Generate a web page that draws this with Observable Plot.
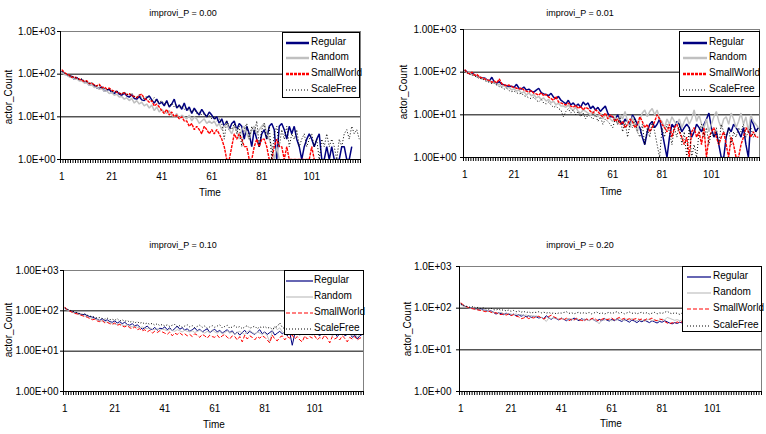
<!DOCTYPE html>
<html><head><meta charset="utf-8">
<script src="https://cdn.jsdelivr.net/npm/d3@7"></script>
<script src="https://cdn.jsdelivr.net/npm/@observablehq/plot@0.6"></script>
<style>
body{margin:0;background:#fff;}
#root{position:relative;width:766px;height:434px;overflow:hidden;font-family:"Liberation Sans",Arial,sans-serif;background:#fff;color:#000;}
.lbl{position:absolute;white-space:nowrap;line-height:1;}
.panel{position:absolute;}
.legend{position:absolute;background:#fff;border:1px solid #000;box-sizing:border-box;}
.legend .txt{position:absolute;font-size:10px;line-height:1;white-space:nowrap;}
.legend svg{position:absolute;overflow:visible;}
</style></head>
<body><div id="root"></div>
<script>
// ---------- data ----------
const seriesNames = ["Regular", "Random", "SmallWorld", "ScaleFree"];
const panelTitles = ["improvi_P = 0.00", "improvi_P = 0.01", "improvi_P = 0.10", "improvi_P = 0.20"];
const xTickLabels = [1, 21, 41, 61, 81, 101];
const yTickValues = [1, 10, 100, 1000];
const yLabel = "actor_Count";
const xLabel = "Time";

const p00Regular = [118,100,98,88,90,76,84,72,74,64, 66,56,58,54,48,46,50,40,42,44, 37,35,40,34,32,36,31,29,33,27, 26,30,25,24,28,31,25,21,26,20, 22,18,24,17,20,26,16,19,15,21, 14,17,12,16,13,11,15,12,10,13, 11,9,10,7,9,6,8,5,7,8, 5,7,6,3,6,4,2,5,3,2, 4,5,3,6,7,5,1,6,7,5, 3,6,4,6,3,2,1,2,3,4, 3,2,3,4,1,1,2,1,2,1, 1,1,2,2,1,1,2,0,0,0];
const p00Random = [112,98,96,86,84,76,78,69,70,62, 63,55,57,49,50,44,46,40,41,35, 37,32,34,29,30,26,28,24,27,21, 24,20,22,18,20,16,19,14,17,13, 15,13,12,14,11,10,12,9,11,10, 9,11,8,10,9,7,8,9,7,8, 7,8,6,7,5,6,7,5,4,6, 5,3,5,6,4,3,5,6,4,5, 6,7,4,3,2,1,2,1,0,0, 0,0,0,0,0,0,0,0,0,0, 0,0,0,0,0,0,0,0,0,0, 0,0,0,0,0,0,0,0,0,0];
const p00SmallWorld = [128,110,100,95,84,88,80,77,72,68, 70,60,62,56,53,58,48,50,45,47, 42,40,38,36,34,37,33,35,31,30, 28,32,34,27,25,22,24,18,20,17, 14,12,15,11,13,10,11,9,10,8, 8,6,7,5,6,5,4,6,5,4, 5,4,5,4,3,2,1,1,2,4, 3,4,3,2,2,1,1,2,3,2, 3,3,2,1,1,2,3,2,2,1, 2,1,1,1,1,1,1,1,1,1, 2,1,0,0,0,0,0,0,0,0, 0,0,0,0,0,0,0,0,0,0];
const p00ScaleFree = [115,108,98,92,90,84,80,76,78,70, 66,62,64,56,52,54,48,46,43,45, 40,38,41,36,35,38,34,32,36,30, 29,33,28,27,31,26,24,28,23,22, 24,20,22,18,21,17,19,16,18,15, 16,14,13,15,12,13,11,12,10,11, 9,10,8,9,7,3,8,6,5,7, 4,6,2,5,7,3,6,4,8,2, 5,7,3,6,1,4,6,2,5,3, 6,2,4,3,5,2,3,4,2,3, 4,2,3,1,3,2,4,2,3,2, 1,3,2,4,5,3,6,4,5,3];

const p01Regular = [112,100,92,96,86,80,78,72,74,66, 62,76,58,55,60,52,50,48,46,47, 44,52,42,40,45,38,40,36,34,38, 42,33,31,30,28,32,26,24,27,22, 20,18,22,17,19,16,18,15,20,17, 19,14,16,13,15,12,14,16,11,9, 9,8,10,7,6,8,7,6,10,8, 6,5,3,2,4,6,7,5,6,8, 4,2,1,3,6,5,7,6,4,5, 6,5,3,4,6,5,4,6,8,11, 5,3,4,2,1,1,3,5,4,6, 5,4,3,5,2,1,8,6,4,5];
const p01Random = [108,98,96,86,88,76,78,68,72,62, 64,56,58,50,53,45,49,42,44,38, 41,36,38,32,35,29,33,28,30,25, 27,23,25,21,23,19,21,17,19,16, 16,15,17,14,13,15,12,11,13,12, 11,10,12,10,9,11,8,10,9,8, 7,9,6,10,8,12,7,5,9,6, 4,8,11,13,9,12,14,10,13,8, 7,5,8,6,9,7,6,8,5,7, 9,6,8,13,7,10,6,5,8,4, 6,9,12,7,5,8,9,6,11,8, 5,7,11,6,9,4,10,7,6,5];
const p01SmallWorld = [115,96,92,100,84,88,76,74,70,66, 64,58,62,56,70,54,50,48,50,46, 44,42,40,43,38,36,34,37,32,31, 29,33,28,30,26,24,22,27,20,19, 18,17,19,16,15,17,14,16,13,15, 14,12,11,13,12,10,9,11,8,10, 9,7,8,6,7,5,6,8,7,5, 6,9,7,5,6,4,5,7,10,8, 6,5,4,6,3,5,6,4,3,2, 3,1,4,5,3,4,2,5,1,3, 4,5,3,2,3,4,2,1,3,2, 1,1,2,3,5,4,3,4,3,3];
const p01ScaleFree = [110,98,90,86,82,76,70,72,64,60, 58,54,56,50,46,44,40,42,37,35, 36,33,31,32,28,27,25,24,26,22, 20,23,19,18,20,17,15,16,14,13, 9,12,14,11,13,10,12,9,11,8, 10,9,8,10,7,9,6,8,7,6, 5,8,6,9,4,7,3,6,5,8, 4,3,6,2,5,3,7,4,2,1, 5,3,6,4,2,5,3,6,2,4, 1,5,1,2,1,4,6,3,5,2, 4,3,5,2,6,4,3,5,2,4, 3,5,4,6,3,4,5,3,4,5];

const p10Regular = [115,108,100,96,90,88,84,80,82,76, 72,70,66,62,58,64,56,60,54,52, 56,50,54,48,52,46,44,48,42,45, 40,35,38,42,36,34,39,33,37,36, 40,34,38,32,36,42,35,38,33,36, 31,34,38,32,35,30,33,36,29,32, 35,30,33,28,31,34,29,32,26,30, 25,29,33,27,31,28,26,30,34,27, 30,26,29,32,25,28,31,27,30,24, 29,14,27,30,25,28,32,26,29,25, 30,27,24,28,31,26,29,25,28,23, 27,30,24,26,29,22,25,20,24,26];
const p10Random = [112,104,98,92,88,84,80,78,74,70, 68,65,62,60,58,55,54,52,50,49, 47,46,48,44,43,45,41,40,42,39, 38,40,37,36,38,35,34,36,33,35, 34,32,35,33,31,34,32,30,33,31, 30,32,29,31,33,30,28,31,29,34, 30,28,31,27,29,32,28,30,26,29, 31,28,26,30,33,29,27,30,28,26, 29,24,17,31,42,34,38,30,27,29, 32,28,26,30,27,33,29,26,31,28, 25,29,32,27,30,26,28,24,27,30, 26,28,25,29,27,24,30,22,26,28];
const p10SmallWorld = [125,105,98,92,86,84,80,76,72,70, 64,60,62,56,54,58,50,52,48,46, 50,44,46,42,40,43,38,36,40,34, 36,32,34,30,33,28,31,29,32,30, 28,26,30,24,28,26,29,25,27,24, 26,23,27,25,22,26,24,21,25,23, 22,25,21,24,26,22,20,24,23,19, 23,17,25,20,24,22,19,23,21,24, 22,19,16,25,20,18,22,24,19,23, 21,25,20,23,19,17,24,20,23,21, 24,19,22,20,25,21,16,23,20,22, 19,24,21,17,22,20,23,19,21,22];
const p10ScaleFree = [118,110,104,98,94,90,86,82,84,78, 74,72,70,66,68,64,62,66,60,62, 58,64,56,60,55,58,52,56,50,54, 49,52,47,50,46,49,44,48,43,46, 42,45,41,44,46,40,43,39,42,45, 40,43,38,41,44,39,42,37,40,43, 39,42,45,38,41,44,37,40,43,38, 41,36,40,43,37,39,42,36,40,38, 41,37,39,35,38,41,50,39,36,40, 38,42,37,40,36,39,42,37,40,38, 41,36,39,42,37,40,38,35,39,41, 37,40,36,39,42,38,36,40,37,39];

const p20Regular = [125,115,108,104,100,98,95,92,96,90, 88,84,86,80,72,78,74,70,76,72, 68,72,66,70,64,68,62,66,60,64, 62,58,60,56,66,58,54,60,56,52, 58,54,50,56,52,58,54,50,56,52, 54,50,56,52,48,54,50,56,52,49, 54,50,55,51,48,53,50,46,52,49, 45,50,47,52,48,45,50,47,44,48, 46,50,47,44,42,45,43,46,44,48, 45,47,43,46,44,48,45,43,46,44, 47,43,45,48,44,46,42,45,47,44, 46,43,45,47,42,44,46,43,45,44];
const p20Random = [120,112,106,102,98,96,94,90,92,88, 86,84,82,80,78,76,80,74,72,75, 72,70,73,68,71,66,69,64,67,63, 65,62,60,55,48,58,56,60,57,54, 58,55,53,57,54,52,56,53,51,55, 53,50,54,52,49,42,53,51,55,52, 50,54,51,57,53,50,55,52,56,53, 50,54,51,48,52,55,50,53,49,51, 55,52,60,57,54,51,53,50,52,49, 51,54,50,53,49,52,55,51,48,52, 50,53,49,52,54,50,47,51,53,50, 52,49,51,54,50,48,52,50,53,51];
const p20SmallWorld = [135,120,110,104,100,96,94,90,88,85, 82,86,80,76,78,72,70,74,68,72, 66,70,64,62,56,58,62,56,60,58, 62,64,58,55,60,63,68,62,58,54, 56,52,58,50,54,52,57,53,51,49, 55,52,56,58,52,50,54,57,53,55, 58,52,56,60,54,57,53,56,52,55, 57,53,55,51,56,54,58,52,50,55, 53,48,44,42,45,43,47,44,48,46, 50,47,45,49,46,48,44,47,45,49, 46,48,50,47,45,49,46,44,48,47, 45,49,47,44,48,46,50,47,45,48];
const p20ScaleFree = [128,118,112,108,104,110,100,106,98,102, 96,94,100,92,90,95,88,92,86,90, 84,88,82,86,80,84,78,82,76,80, 79,82,77,80,76,79,74,78,73,77, 76,79,82,75,78,73,77,80,74,78, 75,79,73,77,81,74,78,72,76,80, 74,78,82,75,79,73,77,81,75,78, 73,77,80,74,78,72,76,79,73,77, 75,79,85,77,73,78,75,71,77,74, 76,80,74,78,72,77,75,79,73,76, 78,74,77,72,76,79,73,77,75,78, 74,77,73,76,79,74,77,72,76,75];

const panelSeries = [
  [p00Regular, p00Random, p00SmallWorld, p00ScaleFree],
  [p01Regular, p01Random, p01SmallWorld, p01ScaleFree],
  [p10Regular, p10Random, p10SmallWorld, p10ScaleFree],
  [p20Regular, p20Random, p20SmallWorld, p20ScaleFree]
];

// ---------- layout & style ----------
const colors = ["#000080", "#c0c0c0", "#ff0000", "#000000"];
const layouts = [
  {left:0, top:0, ml:60, mr:23, mt:31, mb:58, fmt:"1.0E+0", ypad:2, thick:true,
   title:[183,13], ylab:[9,97], xlab:[210,193],
   legend:{x:282, y:32, w:78, h:66, rows:[42,57,73,89], sx:285, sw:23, tx:310}},
  {left:383, top:0, ml:80, mr:7, mb:60, mt:29, fmt:"1.00E+0", ypad:4, thick:true,
   title:[580,13], ylab:[404,92], xlab:[611,192],
   legend:{x:679, y:31, w:81, h:66, rows:[42,57,73,89], sx:682, sw:24, tx:708}},
  {left:0, top:217, ml:63, mr:20, mt:53, mb:43, fmt:"1.00E+0", ypad:2, thick:false,
   title:[183,245], ylab:[9,330], xlab:[214,425],
   legend:{x:284, y:270, w:80, h:65, rows:[280,296,312,328], sx:285, sw:27, tx:313}},
  {left:383, top:217, ml:76, mr:5, mt:49, mb:43, fmt:"1.0E+0", ypad:5, thick:false,
   title:[580,245], ylab:[408,329], xlab:[611,424],
   legend:{x:682, y:266, w:80, h:66, rows:[276,292,308,325], sx:686, sw:24, tx:712}}
];

function styleFor(i, thick) {
  if (i === 0) return {stroke: colors[0], strokeWidth: thick ? 1.5 : 1, dash: null};
  if (i === 1) return {stroke: colors[1], strokeWidth: thick ? 1.5 : 1, dash: null};
  if (i === 2) return {stroke: colors[2], strokeWidth: thick ? 1.4 : 1, dash: thick ? "3,1" : "4,2"};
  return {stroke: colors[3], strokeWidth: 1, dash: "1,2"};
}

const root = document.getElementById("root");

function addLabel(text, cx, cy, size, rotate) {
  const d = document.createElement("div");
  d.className = "lbl";
  d.textContent = text;
  d.style.fontSize = size + "px";
  d.style.left = cx + "px";
  d.style.top = cy + "px";
  d.style.transform = "translate(-50%,-50%)" + (rotate ? " rotate(-90deg)" : "");
  root.appendChild(d);
}

layouts.forEach((L, p) => {
  const W = 383, H = 217;
  const rows = [];
  panelSeries[p].forEach((arr, si) => {
    arr.forEach((v, k) => rows.push({t: k + 1, v: v > 0 ? v : null, s: seriesNames[si]}));
  });
  const lineMarks = seriesNames.map((name, si) => {
    const st = styleFor(si, L.thick);
    return Plot.line(rows.filter(r => r.s === name), {
      x: "t", y: "v", stroke: st.stroke, strokeWidth: st.strokeWidth,
      strokeDasharray: st.dash || undefined, strokeLinejoin: "miter", strokeLinecap: "butt"
    });
  });
  const exp = d => String(Math.round(Math.log10(d)));
  const chart = Plot.plot({
    width: W, height: H,
    marginLeft: L.ml, marginRight: L.mr, marginTop: L.mt, marginBottom: L.mb,
    style: {fontFamily: '"Liberation Sans", Arial, sans-serif', fontSize: "10px", background: "transparent", color: "#000", overflow: "visible"},
    x: {domain: [0.5, 120.5], axis: null},
    y: {type: "log", domain: [1, 1000], axis: null},
    clip: true,
    marks: [
      Plot.ruleY([1000], {stroke: "#808080", clip: false}),
      Plot.ruleX([120.5], {stroke: "#808080", clip: false}),
      Plot.ruleY([10, 100], {stroke: "#000", clip: false}),
      ...lineMarks,
      Plot.ruleX([0.5], {stroke: "#000", clip: false}),
      Plot.ruleY([1], {stroke: "#000", clip: false}),
      Plot.axisX({ticks: d3.range(0.5, 121, 1), tickSize: 4, tickFormat: () => "", label: null, stroke: "#000", strokeOpacity: 1}),
      Plot.axisX({ticks: xTickLabels, tickSize: 0, tickPadding: 13, tickFormat: d => String(d), label: null, fill: "#000"}),
      Plot.axisY({ticks: yTickValues, tickSize: 3, tickPadding: L.ypad, tickFormat: d => L.fmt + exp(d), label: null, fill: "#000", strokeOpacity: 1})
    ]
  });
  const holder = document.createElement("div");
  holder.className = "panel";
  holder.style.left = L.left + "px";
  holder.style.top = L.top + "px";
  holder.appendChild(chart);
  root.appendChild(holder);

  // legend box
  const G = L.legend;
  const lg = document.createElement("div");
  lg.className = "legend";
  lg.style.left = G.x + "px"; lg.style.top = G.y + "px";
  lg.style.width = G.w + "px"; lg.style.height = G.h + "px";
  seriesNames.forEach((name, si) => {
    const st = styleFor(si, L.thick);
    const ry = G.rows[si] - G.y;
    const ns = "http://www.w3.org/2000/svg";
    const sv = document.createElementNS(ns, "svg");
    sv.setAttribute("width", G.sw); sv.setAttribute("height", 6);
    sv.style.left = (G.sx - G.x) + "px"; sv.style.top = (ry - 3) + "px";
    const ln = document.createElementNS(ns, "line");
    ln.setAttribute("x1", 0); ln.setAttribute("x2", G.sw);
    ln.setAttribute("y1", 3); ln.setAttribute("y2", 3);
    ln.setAttribute("stroke", st.stroke);
    ln.setAttribute("stroke-width", si === 3 ? 1 : (L.thick ? 2.5 : 1.2));
    if (st.dash) ln.setAttribute("stroke-dasharray", st.dash);
    sv.appendChild(ln);
    lg.appendChild(sv);
    const tx = document.createElement("div");
    tx.className = "txt";
    tx.textContent = name;
    tx.style.left = (G.tx - G.x) + "px";
    tx.style.top = (ry - 6) + "px";
    lg.appendChild(tx);
  });
  root.appendChild(lg);

  addLabel(panelTitles[p], L.title[0], L.title[1], 9);
  addLabel(yLabel, L.ylab[0], L.ylab[1], 10, true);
  addLabel(xLabel, L.xlab[0], L.xlab[1], 10);
});
</script>
</body></html>
